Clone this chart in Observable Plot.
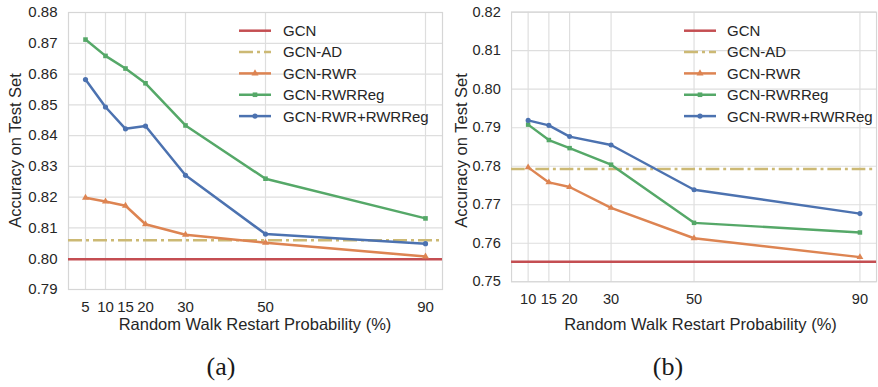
<!DOCTYPE html>
<html>
<head>
<meta charset="utf-8">
<script src="https://cdn.jsdelivr.net/npm/d3@7"></script>
<script src="https://cdn.jsdelivr.net/npm/@observablehq/plot@0.6"></script>
<style>
  html, body { margin: 0; padding: 0; background: #fff; }
  #wrap { position: relative; width: 878px; height: 387px; overflow: hidden; background: #fff;
          font-family: "Liberation Sans", Arial, sans-serif; color: #262626; }
  .panel { position: absolute; top: 0; }
  .caption { position: absolute; width: 100px; text-align: center; font-family: "Liberation Serif", "DejaVu Serif", serif;
             font-size: 26px; line-height: 26px; color: #1a1a1a; }
  #overlay { position: absolute; left: 0; top: 0; pointer-events: none; }
</style>
</head>
<body>
<div id="wrap">
  <div id="panelA" class="panel" style="left:0px"></div>
  <div id="panelB" class="panel" style="left:440px"></div>
  <svg id="overlay" width="878" height="387"></svg>
  <div class="caption" style="left:171px; top:354px">(a)</div>
  <div class="caption" style="left:618px; top:354px">(b)</div>
</div>
<script>
// ---------- data ----------
const seriesNames = ["GCN", "GCN-AD", "GCN-RWR", "GCN-RWRReg", "GCN-RWR+RWRReg"];
const seriesColors = ["#c44e52", "#ccb974", "#dd8452", "#55a868", "#4c72b0"];
const seriesSymbols = [null, null, "triangle", "square", "circle"];

// Panel (a)
const probsA = [5, 10, 15, 20, 30, 50, 90];
const gcnA = 0.7998;
const adA = 0.8060;
const rwrA = [0.8198, 0.8186, 0.8172, 0.8112, 0.8078, 0.8052, 0.8007];
const rwrRegA = [0.8712, 0.8659, 0.8618, 0.8570, 0.8433, 0.8260, 0.8131];
const bothA = [0.8582, 0.8493, 0.8422, 0.8431, 0.8271, 0.8080, 0.8049];
const yTicksA = [0.79, 0.80, 0.81, 0.82, 0.83, 0.84, 0.85, 0.86, 0.87, 0.88];

// Panel (b)
const probsB = [10, 15, 20, 30, 50, 90];
const gcnB = 0.7552;
const adB = 0.7793;
const rwrB = [0.7797, 0.7758, 0.7746, 0.7692, 0.7613, 0.7564];
const rwrRegB = [0.7908, 0.7868, 0.7847, 0.7804, 0.7653, 0.7628];
const bothB = [0.7919, 0.7906, 0.7877, 0.7855, 0.7739, 0.7677];
const yTicksB = [0.75, 0.76, 0.77, 0.78, 0.79, 0.80, 0.81, 0.82];

const xLabel = "Random Walk Restart Probability (%)";
const yLabel = "Accuracy on Test Set";

// ---------- drawing ----------
const gridColor = "#dedede";
const lw = 2.5;
const fontFam = "'Liberation Sans', Arial, sans-serif";

function makePanel({probs, gcn, ad, rwr, reg, both, yDomain, yTicks, xDomain, width, marginLeft, marginRight}) {
  const rows = [];
  [[rwr, 2], [reg, 3], [both, 4]].forEach(([vals, k]) => {
    probs.forEach((p, i) => rows.push({series: seriesNames[k], color: seriesColors[k], symbol: seriesSymbols[k], x: p, y: vals[i]}));
  });
  return Plot.plot({
    width, height: 340,
    marginTop: 12, marginBottom: 51, marginLeft, marginRight,
    style: {fontFamily: fontFam, fontSize: "15px", color: "#262626", background: "transparent", overflow: "visible"},
    x: {domain: xDomain, ticks: probs, tickSize: 0, tickPadding: 12, label: null},
    y: {domain: yDomain, ticks: yTicks, tickFormat: d3.format(".2f"), tickSize: 0, tickPadding: 11, label: null},
    marks: [
      Plot.gridX(probs, {stroke: gridColor, strokeOpacity: 1, strokeWidth: 1.2}),
      Plot.gridY(yTicks, {stroke: gridColor, strokeOpacity: 1, strokeWidth: 1.2}),
      Plot.frame({stroke: "#d6d6d6", strokeWidth: 1.2}),
      Plot.ruleY([gcn], {stroke: seriesColors[0], strokeWidth: lw}),
      Plot.ruleY([ad], {stroke: seriesColors[1], strokeWidth: lw, strokeDasharray: "14,4,3,4"}),
      Plot.line(rows, {x: "x", y: "y", z: "series", stroke: "color", strokeWidth: lw}),
      Plot.dot(rows, {x: "x", y: "y", fill: "color", symbol: "symbol", r: 2.6, stroke: "none"})
    ]
  });
}

document.getElementById("panelA").appendChild(makePanel({
  probs: probsA, gcn: gcnA, ad: adA, rwr: rwrA, reg: rwrRegA, both: bothA,
  yDomain: [0.79, 0.88], yTicks: yTicksA, xDomain: [0.75, 94.25],
  width: 443, marginLeft: 68, marginRight: 1
}));
document.getElementById("panelB").appendChild(makePanel({
  probs: probsB, gcn: gcnB, ad: adB, rwr: rwrB, reg: rwrRegB, both: bothB,
  yDomain: [0.75, 0.82], yTicks: yTicksB, xDomain: [6, 94],
  width: 450, marginLeft: 73, marginRight: 2
}));

// ---------- axis labels & legends ----------
const overlay = d3.select("#overlay");
function axisLabels(xCenter, yLabelX) {
  overlay.append("text").attr("x", xCenter).attr("y", 329.5).attr("text-anchor", "middle")
    .attr("font-family", fontFam).attr("font-size", 16.5).attr("fill", "#262626").text(xLabel);
  overlay.append("text").attr("transform", `translate(${yLabelX},150.5) rotate(-90)`).attr("text-anchor", "middle")
    .attr("font-family", fontFam).attr("font-size", 16.5).attr("fill", "#262626").text(yLabel);
}
axisLabels(255, 21);
axisLabels(700.5, 466.5);

function legend(lineX0, textX) {
  const g = overlay.append("g");
  seriesNames.forEach((name, i) => {
    const y = 30.7 + i * 21.35;
    const line = g.append("line").attr("x1", lineX0).attr("x2", lineX0 + 32).attr("y1", y).attr("y2", y)
      .attr("stroke", seriesColors[i]).attr("stroke-width", lw);
    if (i === 1) line.attr("stroke-dasharray", "14,4,3,4");
    if (seriesSymbols[i]) {
      const sym = {triangle: d3.symbolTriangle, square: d3.symbolSquare, circle: d3.symbolCircle}[seriesSymbols[i]];
      g.append("path").attr("d", d3.symbol(sym, 2.6 * 2.6 * Math.PI)()).attr("transform", `translate(${lineX0 + 16},${y})`)
        .attr("fill", seriesColors[i]);
    }
    g.append("text").attr("x", textX).attr("y", y + 5.4).text(name)
      .attr("font-family", fontFam).attr("font-size", 15).attr("fill", "#262626");
  });
}
legend(239, 283);
legend(684, 727);
</script>
</body>
</html>
